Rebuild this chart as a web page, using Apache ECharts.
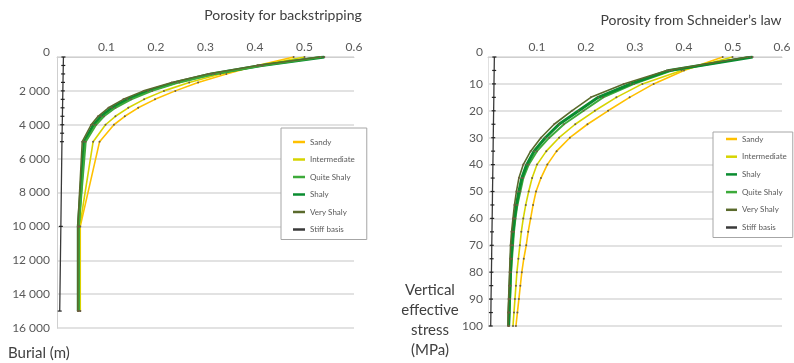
<!DOCTYPE html>
<html><head><meta charset="utf-8">
<script src="https://cdn.jsdelivr.net/npm/echarts@6/dist/echarts.min.js"></script>
<style>html,body{margin:0;padding:0;background:#fff}#c{width:794px;height:363px}</style>
</head><body><div id="c"></div>
<script>
// ---- Left chart: Porosity for backstripping (burial depth, m) ----
const depthLeft = [0, 500, 1000, 1500, 2000, 2500, 3000, 3500, 4000, 5000, 10000, 15000];
const sandyLeft        = [0.478, 0.405, 0.342, 0.285, 0.239, 0.198, 0.164, 0.137, 0.115, 0.086, 0.047, 0.047];
const intermediateLeft = [0.500, 0.408, 0.330, 0.267, 0.216, 0.176, 0.144, 0.118, 0.098, 0.073, 0.046, 0.047];
const quiteShalyLeft   = [0.535, 0.415, 0.318, 0.247, 0.192, 0.150, 0.118, 0.095, 0.079, 0.058, 0.044, 0.044];
const shalyLeft        = [0.540, 0.413, 0.312, 0.240, 0.184, 0.142, 0.111, 0.089, 0.074, 0.055, 0.043, 0.043];
const veryShalyLeft    = [0.530, 0.405, 0.305, 0.232, 0.175, 0.134, 0.104, 0.083, 0.069, 0.051, 0.042, 0.042];
const stiffDepthLeft   = [0, 500, 1000, 1500, 2000, 2500, 3000, 3500, 4000, 4500, 5000, 10000, 15000];
const stiffLeft        = [0.013, 0.0127, 0.0124, 0.0121, 0.0118, 0.0115, 0.0112, 0.0109, 0.0106, 0.0103, 0.010, 0.0078, 0.0055];

// ---- Right chart: Porosity from Schneider's law (vertical effective stress, MPa) ----
const stress = [0, 5, 10, 15, 20, 25, 30, 35, 40, 45, 50, 55, 60, 65, 70, 75, 80, 85, 90, 95, 100];
const sandyRight        = [0.479, 0.400, 0.338, 0.289, 0.245, 0.203, 0.167, 0.140, 0.121, 0.108, 0.098, 0.092, 0.087, 0.082, 0.078, 0.073, 0.069, 0.066, 0.063, 0.060, 0.057];
const intermediateRight = [0.499, 0.395, 0.315, 0.262, 0.218, 0.178, 0.145, 0.119, 0.100, 0.090, 0.083, 0.077, 0.072, 0.068, 0.065, 0.062, 0.059, 0.057, 0.055, 0.053, 0.051];
const shalyRight        = [0.540, 0.370, 0.291, 0.225, 0.185, 0.145, 0.117, 0.094, 0.079, 0.069, 0.063, 0.058, 0.054, 0.051, 0.049, 0.047, 0.046, 0.045, 0.044, 0.043, 0.042];
const quiteShalyRight   = [0.535, 0.375, 0.298, 0.235, 0.195, 0.155, 0.125, 0.100, 0.083, 0.072, 0.066, 0.060, 0.056, 0.053, 0.051, 0.049, 0.047, 0.046, 0.045, 0.044, 0.043];
const veryShalyRight    = [0.530, 0.365, 0.277, 0.210, 0.171, 0.135, 0.108, 0.087, 0.072, 0.063, 0.058, 0.054, 0.051, 0.048, 0.046, 0.045, 0.044, 0.043, 0.042, 0.041, 0.041];
const stiffRight        = [0.013, 0.0126, 0.0122, 0.0119, 0.0115, 0.0111, 0.0107, 0.0104, 0.010, 0.0096, 0.0092, 0.0089, 0.0085, 0.0081, 0.0077, 0.0074, 0.007, 0.0066, 0.0062, 0.0059, 0.0055];

const legendLeft  = ['Sandy', 'Intermediate', 'Quite Shaly', 'Shaly', 'Very Shaly', 'Stiff basis'];
const legendRight = ['Sandy', 'Intermediate', 'Shaly', 'Quite Shaly', 'Very Shaly', 'Stiff basis'];

const FONT = 'Lato';
const styles = {
  'Sandy':        {color: '#FFC000', width: 1.6},
  'Intermediate': {color: '#D6D400', width: 1.6},
  'Quite Shaly':  {color: '#3DAA3A', width: 2},
  'Shaly':        {color: '#0A8C30', width: 3},
  'Very Shaly':   {color: '#5A6A2C', width: 1.6},
  'Stiff basis':  {color: '#3a3a3a', width: 1.3}
};
function pairs(xs, ys) { return ys.map((y, i) => [xs[i], y]); }
function mk(name, xs, ys, gi) {
  const s = styles[name];
  const stiff = name === 'Stiff basis';
  return {
    name, type: 'line', xAxisIndex: gi, yAxisIndex: gi,
    data: pairs(xs, ys), smooth: false, z: stiff ? 5 : 2,
    symbol: stiff ? 'rect' : 'circle', symbolSize: stiff ? [4, 1.2] : 2, showSymbol: true,
    lineStyle: {color: s.color, width: s.width},
    itemStyle: {color: stiff ? '#222' : '#6b6040'},
    emphasis: {disabled: true}, animation: false
  };
}
function legendItems(names) {
  return names.map(n => ({name: n, icon: 'rect', itemStyle: {color: styles[n].color}}));
}
const thousands = v => (v === 0 ? '{z|0}' : String(v).replace(/\B(?=(\d{3})+(?!\d))/g, ' '));
const zeroUp = v => (v === 0 ? '{z|0}' : String(v));
const richZ = {z: {fontFamily: FONT, fontSize: 12, color: '#595959', padding: [0, 0, 10, 0]}};

const xAxisCommon = {
  type: 'value', min: 0, max: 0.6, interval: 0.1, position: 'top',
  axisLine: {show: true, lineStyle: {color: '#cfcfcf', width: 1}},
  axisTick: {show: false}, splitLine: {show: false},
  axisLabel: {fontFamily: FONT, fontSize: 12, color: '#595959', margin: 4,
    formatter: v => (v === 0 ? '' : (Math.round(v * 10) / 10).toString())}
};
const gridLine = {show: true, lineStyle: {color: '#d9d9d9', width: 1.5}};

const option = {
  backgroundColor: '#fff',
  animation: false,
  grid: [
    {left: 57, top: 57, width: 297, height: 271},
    {left: 488, top: 57, width: 294, height: 269}
  ],
  xAxis: [
    Object.assign({gridIndex: 0}, xAxisCommon),
    Object.assign({gridIndex: 1}, xAxisCommon)
  ],
  yAxis: [
    {gridIndex: 0, type: 'value', min: 0, max: 16000, interval: 2000, inverse: true,
     axisLine: {show: true, lineStyle: {color: '#cfcfcf'}}, axisTick: {show: false},
     splitLine: gridLine,
     axisLabel: {fontFamily: FONT, fontSize: 12, color: '#595959', margin: 7, formatter: thousands, rich: richZ}},
    {gridIndex: 1, type: 'value', min: 0, max: 100, interval: 10, inverse: true,
     axisLine: {show: true, lineStyle: {color: '#e0e0e0'}}, axisTick: {show: false},
     splitLine: gridLine,
     axisLabel: {fontFamily: FONT, fontSize: 12, color: '#595959', margin: 5, formatter: zeroUp, rich: richZ}}
  ],
  legend: [
    {data: legendItems(legendLeft), orient: 'vertical', left: 281, top: 128,
     padding: [9, 12, 5, 12], itemGap: 7.5, itemWidth: 12, itemHeight: 2.5,
     borderColor: '#a6a6a6', borderWidth: 1, backgroundColor: '#fff',
     textStyle: {fontFamily: FONT, fontSize: 8, color: '#595959', lineHeight: 10}},
    {data: legendItems(legendRight), orient: 'vertical', left: 713, top: 132,
     padding: [2, 6, 5, 13], itemGap: 7.7, itemWidth: 11, itemHeight: 2.5,
     borderColor: '#a6a6a6', borderWidth: 1, backgroundColor: '#fff',
     textStyle: {fontFamily: FONT, fontSize: 8, color: '#595959', lineHeight: 10}}
  ],
  series: [
    mk('Stiff basis', stiffLeft, stiffDepthLeft, 0),
    mk('Sandy', sandyLeft, depthLeft, 0),
    mk('Intermediate', intermediateLeft, depthLeft, 0),
    mk('Shaly', shalyLeft, depthLeft, 0),
    mk('Quite Shaly', quiteShalyLeft, depthLeft, 0),
    mk('Very Shaly', veryShalyLeft, depthLeft, 0),
    mk('Stiff basis', stiffRight, stress, 1),
    mk('Sandy', sandyRight, stress, 1),
    mk('Intermediate', intermediateRight, stress, 1),
    mk('Quite Shaly', quiteShalyRight, stress, 1),
    mk('Shaly', shalyRight, stress, 1),
    mk('Very Shaly', veryShalyRight, stress, 1)
  ],
  graphic: [
    {type: 'text', x: 283, y: 15, style: {text: 'Porosity for backstripping', fontFamily: FONT, fontSize: 14, fill: '#404040', textAlign: 'center', textVerticalAlign: 'middle'}},
    {type: 'text', x: 691, y: 20, style: {text: 'Porosity from Schneider\u2019s law', fontFamily: FONT, fontSize: 14, fill: '#404040', textAlign: 'center', textVerticalAlign: 'middle'}},
    {type: 'text', x: 8, y: 353, style: {text: 'Burial (m)', fontFamily: FONT, fontSize: 15, fill: '#404040', textAlign: 'left', textVerticalAlign: 'middle'}},
    {type: 'text', x: 430, y: 280, style: {text: 'Vertical\neffective\nstress\n(MPa)', fontFamily: FONT, fontSize: 15, lineHeight: 20, fill: '#404040', textAlign: 'center', textVerticalAlign: 'top'}}
  ]
};
const chart = echarts.init(document.getElementById('c'), null, {renderer: 'canvas'});
chart.setOption(option);
</script></body></html>
